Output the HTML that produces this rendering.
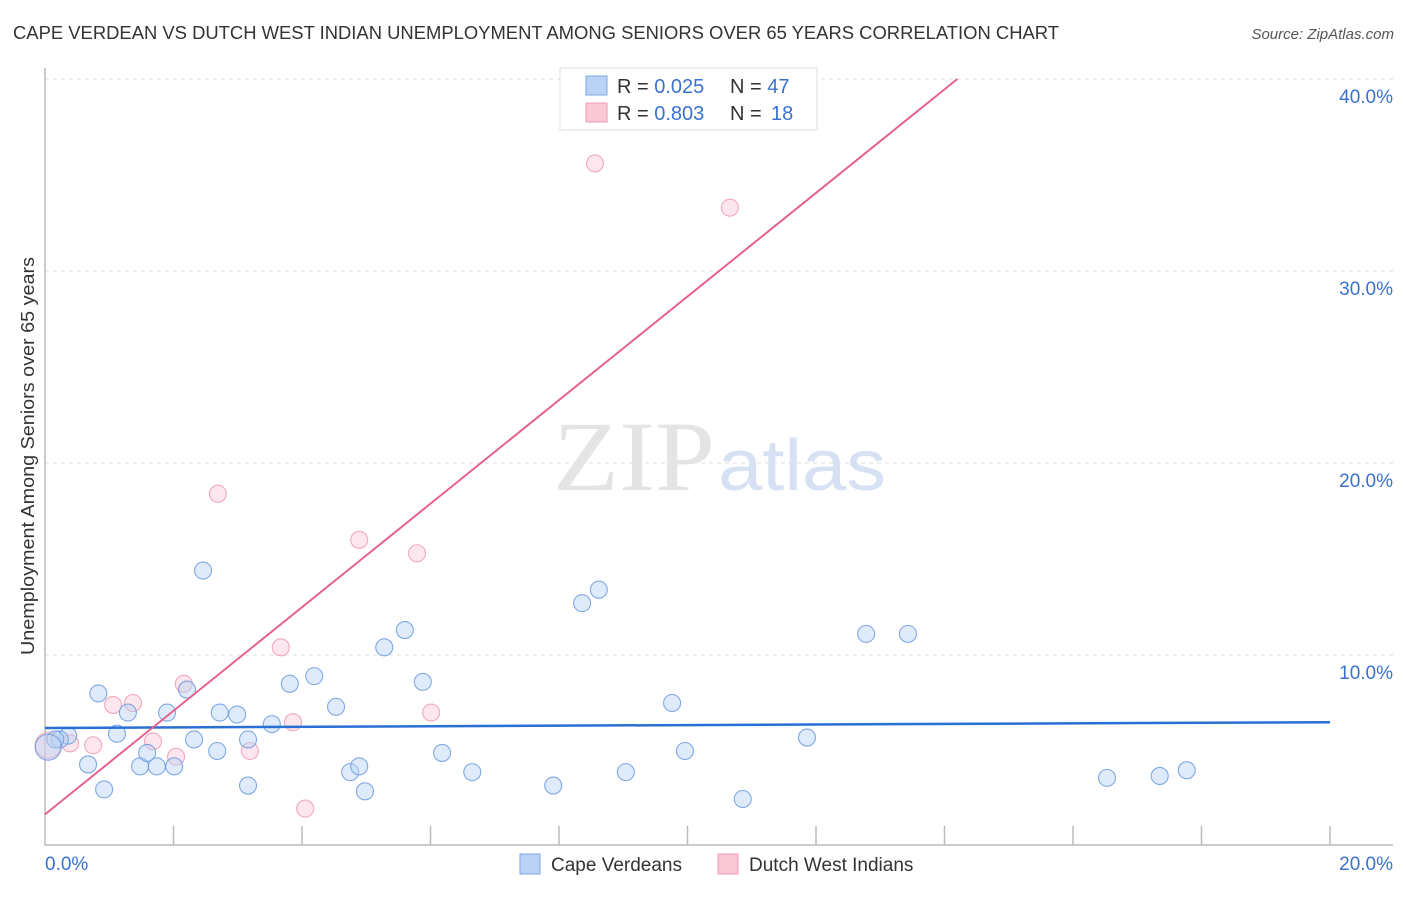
<!DOCTYPE html>
<html><head><meta charset="utf-8"><style>
body{margin:0;background:#fff;font-family:"Liberation Sans",sans-serif}
</style></head><body>
<svg id="chart" width="1406" height="892" xmlns="http://www.w3.org/2000/svg" font-family="Liberation Sans, sans-serif">
<text x="13" y="39" font-size="18" fill="#333" textLength="1046" lengthAdjust="spacingAndGlyphs">CAPE VERDEAN VS DUTCH WEST INDIAN UNEMPLOYMENT AMONG SENIORS OVER 65 YEARS CORRELATION CHART</text>
<text x="1394" y="39" font-size="15" fill="#555" font-style="italic" text-anchor="end">Source: ZipAtlas.com</text>
<g id="grid"></g>
<text x="553" y="490" font-size="100" fill="#e4e4e4" style="font-family:'Liberation Serif',serif" textLength="162" lengthAdjust="spacingAndGlyphs">ZIP</text>
<text x="718" y="490" font-size="72" fill="#d6e2f3" textLength="168" lengthAdjust="spacingAndGlyphs">atlas</text>
<text transform="translate(34,456) rotate(-90)" font-size="18" fill="#333" text-anchor="middle" textLength="398" lengthAdjust="spacingAndGlyphs">Unemployment Among Seniors over 65 years</text>
<g id="marks"></g>
<g>
<rect x="560" y="68" width="257" height="62" fill="#fff" stroke="#ddd"/>
<rect x="586" y="76" width="21" height="19" fill="#b8d3f5" stroke="#7aa7e3"/>
<rect x="586" y="103" width="21" height="19" fill="#fac8d6" stroke="#ee9bb3"/>
<text x="617" y="93" font-size="20" fill="#333">R = <tspan fill="#3a72d0">0.025</tspan></text>
<text x="730" y="93" font-size="20" fill="#333">N = <tspan fill="#3a72d0">47</tspan></text>
<text x="617" y="120" font-size="20" fill="#333">R = <tspan fill="#3a72d0">0.803</tspan></text>
<text x="730" y="120" font-size="20" fill="#333">N = <tspan fill="#3a72d0" x="771">18</tspan></text>
</g>
<g>
<rect x="520" y="854" width="20" height="20" fill="#b8d3f5" stroke="#7aa7e3"/>
<text x="551" y="871" font-size="19" fill="#333">Cape Verdeans</text>
<rect x="718" y="854" width="20" height="20" fill="#fac8d6" stroke="#ee9bb3"/>
<text x="749" y="871" font-size="19" fill="#333">Dutch West Indians</text>
</g>
</svg>
<script>
const yTicks=[10,20,30,40];
const xTickLabels=["0.0%","20.0%"];
const blueX=[0.83,1.29,1.12,0.67,0.92,0.36,0.23,0.16,1.48,1.74,2.01,1.59,1.90,2.21,2.32,2.46,2.68,2.72,2.99,3.16,3.16,3.53,3.81,4.19,4.53,4.75,4.89,4.98,5.28,5.60,5.88,6.18,6.65,7.91,8.36,8.62,9.04,9.76,9.96,10.86,11.86,12.78,13.43,16.53,17.35,17.77,0.05];
const blueY=[8.0,7.0,5.9,4.3,3.0,5.8,5.6,5.6,4.2,4.2,4.2,4.9,7.0,8.2,5.6,14.4,5.0,7.0,6.9,5.6,3.2,6.4,8.5,8.9,7.3,3.9,4.2,2.9,10.4,11.3,8.6,4.9,3.9,3.2,12.7,13.4,3.9,7.5,5.0,2.5,5.7,11.1,11.1,3.6,3.7,4.0,5.2];
const pinkX=[8.56,10.66,2.69,4.89,5.79,3.67,2.16,1.06,1.37,3.86,6.01,1.68,2.04,0.75,3.19,4.05,0.39,0.05];
const pinkY=[35.6,33.3,18.4,16.0,15.3,10.4,8.5,7.4,7.5,6.5,7.0,5.5,4.7,5.3,5.0,2.0,5.4,5.3];
const blueFit=[6.2,6.5], pinkFit=[1.7,40];
const NS="http://www.w3.org/2000/svg";
const X0=45,X1=1330,Y0=847,YS=19.2;
const xs=v=>X0+v*(X1-X0)/20, ys=v=>Y0-v*YS;
const grid=document.getElementById('grid'), marks=document.getElementById('marks');
function mk(tag,attrs,parent){const e=document.createElementNS(NS,tag);for(const k in attrs)e.setAttribute(k,attrs[k]);parent.appendChild(e);return e;}
yTicks.forEach(t=>{
 const l=mk('line',{x1:X0,x2:1393,y1:ys(t),y2:ys(t),stroke:'#ddd','stroke-dasharray':'4,4'},grid);
 
 
 const tx=mk('text',{x:1393,y:ys(t)+24,'font-size':19,fill:'#3a72d0','text-anchor':'end'},grid);
 tx.textContent=t.toFixed(1)+'%';
 
 
});
const ax=mk('path',{d:`M${X0} 68 V845 H1393`,stroke:'#bbb',fill:'none','stroke-width':1.5},grid);


for(let i=1;i<=10;i++){
 const t=mk('line',{x1:xs(i*2),x2:xs(i*2),y1:826,y2:845,stroke:'#bbb','stroke-width':1.5},grid);
 
 
}
[[0,'start',45],[1,'end',1393]].forEach(([i,a,x])=>{
 const t=mk('text',{x:x,y:870,'font-size':19,fill:'#3a72d0','text-anchor':a},grid);
 t.textContent=xTickLabels[i];
 
 
});
function dot(x,y,r,fill,stroke,name){
 const c=mk('circle',{cx:xs(x),cy:ys(y),r:r,fill:fill,stroke:stroke,'stroke-width':1.1,'fill-opacity':0.45,'stroke-opacity':0.85},marks);
 
 
}
pinkX.forEach((x,i)=>dot(x,pinkY[i],i==pinkX.length-1?13:8.5,'#fac8d6','#ee9bb3','pink-point'));
blueX.forEach((x,i)=>dot(x,blueY[i],i==blueX.length-1?13:8.5,'#b8d3f5','#6b9be0','blue-point'));
const bl=mk('line',{x1:xs(0),y1:ys(blueFit[0]),x2:xs(20),y2:ys(blueFit[1]),stroke:'#2a6fd6','stroke-width':2.5},marks);


const px1=14.2;
const pl=mk('line',{x1:xs(0),y1:ys(pinkFit[0]),x2:xs(px1),y2:ys(pinkFit[1]),stroke:'#e6628c','stroke-width':2},marks);


</script>
</body></html>
